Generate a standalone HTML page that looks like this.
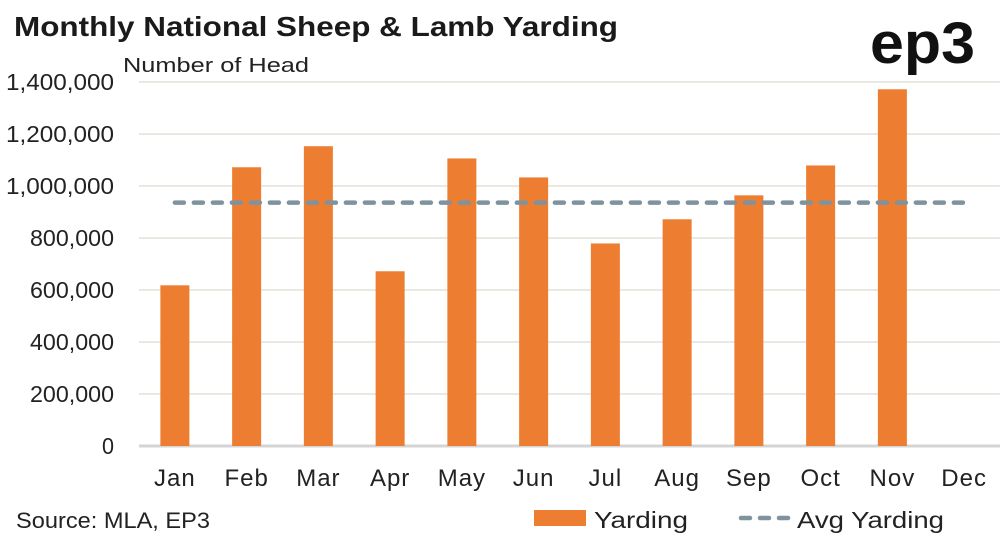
<!DOCTYPE html>
<html><head><meta charset="utf-8"><style>
body{margin:0;background:#fff;width:1004px;height:541px;overflow:hidden}
svg{display:block;font-family:"Liberation Sans",sans-serif}
</style></head><body>
<svg id="c" width="1004" height="541">
<text x="14" y="36" font-size="28" font-weight="bold" fill="#1a1a1a" textLength="604" lengthAdjust="spacingAndGlyphs">Monthly National Sheep &amp; Lamb Yarding</text>
<text x="870" y="63" font-size="58" font-weight="bold" fill="#111" textLength="105" lengthAdjust="spacingAndGlyphs">ep3</text>
<text x="123" y="72" font-size="20" fill="#222" textLength="186" lengthAdjust="spacingAndGlyphs">Number of Head</text>
<text x="16" y="528" font-size="22" fill="#222" textLength="194" lengthAdjust="spacingAndGlyphs">Source: MLA, EP3</text>
<g id="grid"></g><g id="bars"></g><g id="avg"></g><g id="labels"></g>
<rect x="534" y="510" width="52" height="16" fill="#ED7D31"/>
<text x="594" y="528" font-size="23" fill="#222" textLength="94" lengthAdjust="spacingAndGlyphs">Yarding</text>
<line x1="741" y1="518" x2="788" y2="518" stroke="#7F939E" stroke-width="4.5" stroke-dasharray="9 10" stroke-linecap="round"/>
<text x="797" y="528" font-size="23" fill="#222" textLength="147" lengthAdjust="spacingAndGlyphs">Avg Yarding</text>
</svg>
<script>
const months=["Jan","Feb","Mar","Apr","May","Jun","Jul","Aug","Sep","Oct","Nov","Dec"];
const yarding=[618000,1072000,1153000,672000,1106000,1033000,779000,872000,964000,1079000,1372000,null];
const avgYarding=936000;
const yTicks=[0,200000,400000,600000,800000,1000000,1200000,1400000];
const ns="http://www.w3.org/2000/svg";
const L=139,R=1000,T=82,B=446,maxV=1400000;
const bw=(R-L)/months.length;
const y=v=>B-(v/maxV)*(B-T);
const xc=i=>L+bw*(i+0.5);
function mk(t,a,p){const e=document.createElementNS(ns,t);for(const k in a)e.setAttribute(k,a[k]);p.appendChild(e);return e;}
const g=document.getElementById('grid'),bg=document.getElementById('bars'),ag=document.getElementById('avg'),lg=document.getElementById('labels');
yTicks.forEach(v=>{
 const ln=mk('line',{x1:L,x2:R,y1:y(v),y2:y(v),stroke:v===0?'#d4d4d4':'#e9e9e0','stroke-width':v===0?3:2},g);
 
 
 const s=v.toLocaleString('en-US');
 const t=mk('text',{x:114,y:y(v)+8,'font-size':23,fill:'#222','text-anchor':'end',textLength:s.length*12,lengthAdjust:'spacingAndGlyphs'},lg);
 t.textContent=s;
 
 
});
months.forEach((m,i)=>{
 const t=mk('text',{x:xc(i),y:486,'font-size':24,fill:'#222','text-anchor':'middle','letter-spacing':1},lg);
 t.textContent=m;
 
 
 const v=yarding[i];
 if(v!=null){
  const r=mk('rect',{x:xc(i)-14.5,y:y(v),width:29,height:B-y(v),fill:'#ED7D31'},bg);
  
  
 }
});
const al=mk('line',{x1:xc(0),x2:xc(11),y1:y(avgYarding),y2:y(avgYarding),stroke:'#7F939E','stroke-width':4.5,'stroke-dasharray':'9 10','stroke-linecap':'round'},ag);


</script>
</body></html>
